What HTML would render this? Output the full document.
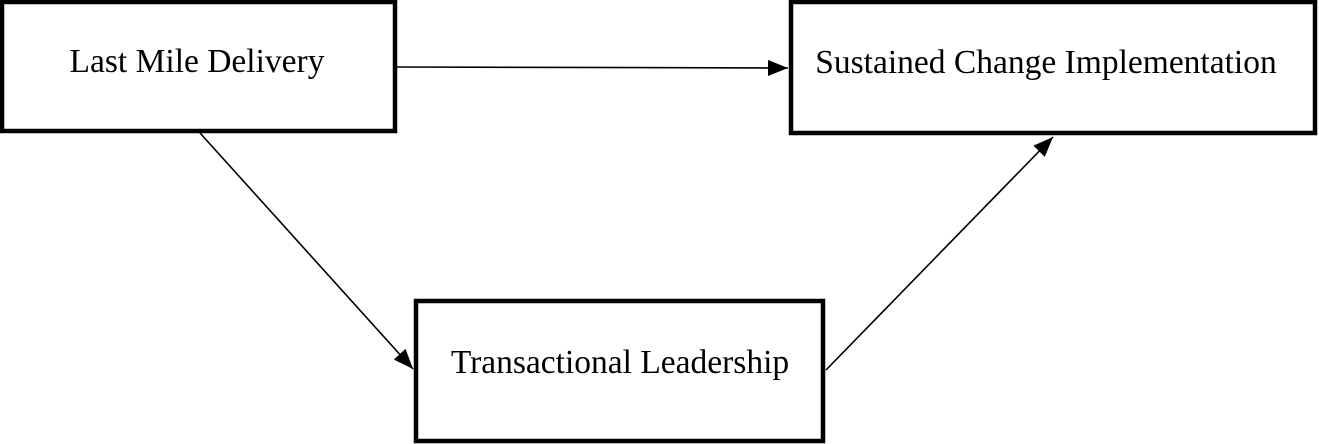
<!DOCTYPE html>
<html><head><style>
html,body{margin:0;padding:0;background:#fff;}
svg{display:block;}
text{font-family:"Liberation Serif",serif;fill:#000;}
</style></head><body>
<svg width="1319" height="444" viewBox="0 0 1319 444">
<defs>
<marker id="a" markerWidth="20" markerHeight="16" refX="20" refY="8" orient="auto" markerUnits="userSpaceOnUse">
<path d="M0,0 L20,8 L0,16 Z" fill="#000"/>
</marker>
</defs>
<rect x="2" y="2" width="393" height="129" fill="#fff" stroke="#000" stroke-width="4.5"/>
<rect x="791" y="2" width="524" height="131" fill="#fff" stroke="#000" stroke-width="4.5"/>
<rect x="416" y="301" width="407" height="140" fill="#fff" stroke="#000" stroke-width="4.5"/>
<text x="197" y="72" font-size="33.5" text-anchor="middle">Last Mile Delivery</text>
<text x="1046" y="73" font-size="33.5" text-anchor="middle">Sustained Change Implementation</text>
<text x="620" y="373" font-size="33.5" text-anchor="middle">Transactional Leadership</text>
<line x1="397" y1="67" x2="788" y2="68" stroke="#000" stroke-width="1.6" marker-end="url(#a)"/>
<line x1="200" y1="133" x2="413" y2="369" stroke="#000" stroke-width="1.6" marker-end="url(#a)"/>
<line x1="826" y1="370" x2="1053" y2="137" stroke="#000" stroke-width="1.6" marker-end="url(#a)"/>
</svg>
</body></html>
